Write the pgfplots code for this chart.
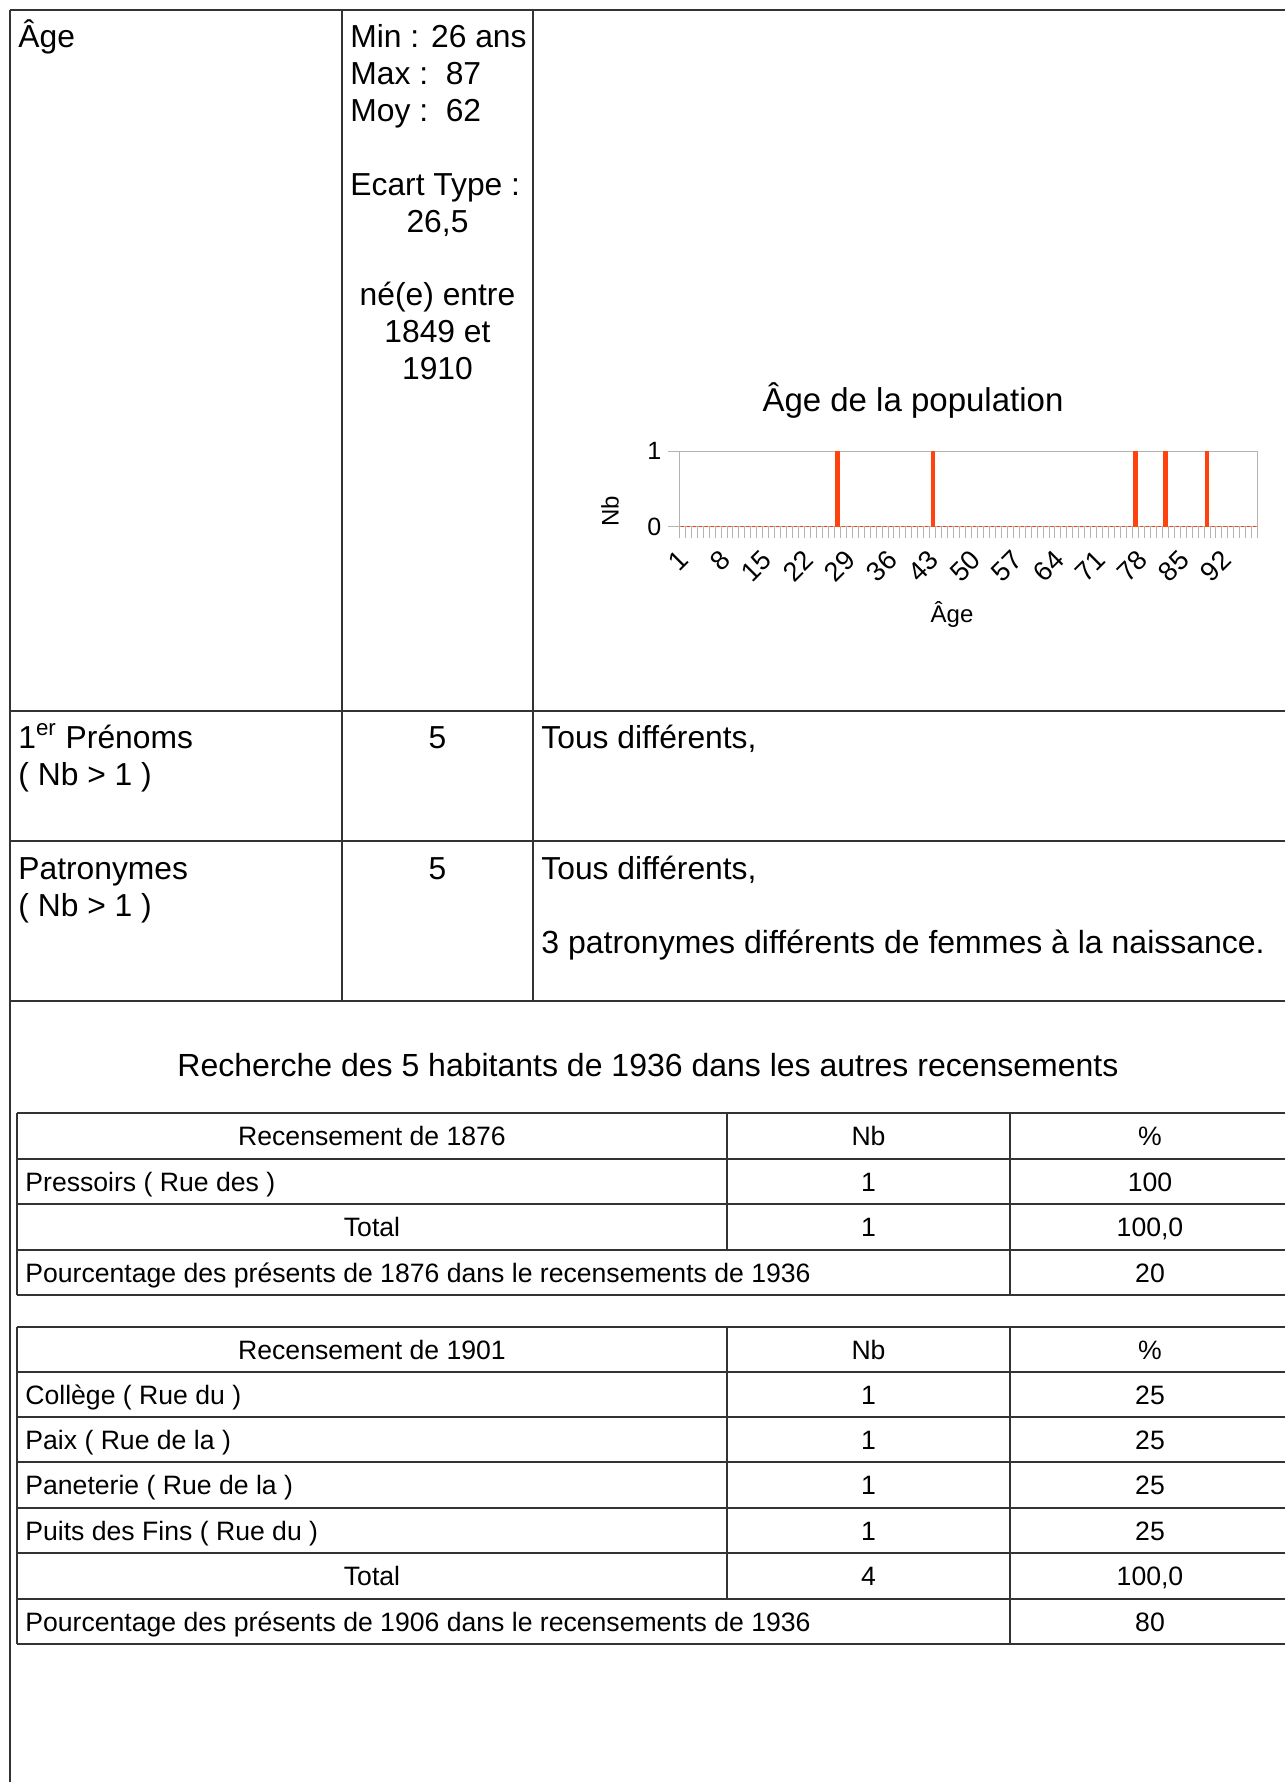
\documentclass[border=0pt]{standalone}
\usepackage{pgfplots}
\pgfplotsset{compat=1.18}
\usepackage{fontspec}
\setmainfont{Liberation Sans}
\definecolor{barred}{HTML}{FF420E}
\definecolor{chartgray}{HTML}{B3B3B3}
\definecolor{rulec}{HTML}{333333}
\newcommand{\bigf}{\fontsize{15.9pt}{18pt}\selectfont}
\newcommand{\smf}{\fontsize{13.3pt}{16pt}\selectfont}
\begin{document}
\begin{tikzpicture}
\useasboundingbox (0,0) rectangle (642.5pt,-891pt);
\fill[white] (0,0) rectangle (642.5pt,-891pt);
\begin{scope}[x=0.5pt,y=-0.5pt]
 % upper table
 \begin{scope}[rulec, line width=0.8pt]
  \draw (10,10) -- (1285,10);
  \draw (10,10) -- (10,1782);
  \draw (342,10) -- (342,1001);
  \draw (533,10) -- (533,1001);
  \draw (10,711) -- (1285,711);
  \draw (10,841) -- (1285,841);
  \draw (10,1001) -- (1285,1001);
 \end{scope}
 \begin{scope}[every node/.style={inner sep=0pt, anchor=base west, font=\bigf}]
  \node at (18,47.7) {Âge};
  \node at (350,47.7) {Min : 26 ans};
  \node at (350,84.3) {Max :\ \ 87};
  \node at (350,121) {Moy :\ \ 62};
  \node at (350,195) {Ecart Type :};
  \node[anchor=base] at (437.5,232) {26,5};
  \node[anchor=base] at (437.5,305) {né(e) entre};
  \node[anchor=base] at (437.5,342.7) {1849 et};
  \node[anchor=base] at (437.5,379) {1910};
  \node at (18,748) {1\textsuperscript{er} Prénoms};
  \node at (18,785) {( Nb > 1 )};
  \node[anchor=base] at (437.5,748) {5};
  \node at (541,748) {Tous différents,};
  \node at (18,879) {Patronymes};
  \node at (18,916) {( Nb > 1 )};
  \node[anchor=base] at (437.5,879) {5};
  \node at (541,879) {Tous différents,};
  \node[font=\fontsize{16pt}{18pt}\selectfont] at (541,953) {3 patronymes différents de femmes à la naissance.};
  \node[anchor=base, font=\fontsize{16pt}{18pt}\selectfont] at (648,1076) {Recherche des 5 habitants de 1936 dans les autres recensements};
 \end{scope}
 % lower tables
 \begin{scope}[rulec, line width=0.75pt]
  \foreach \y in {1113,1159,1204,1250,1295} \draw (17,\y) -- (1285,\y);
  \draw (17,1113) -- (17,1295);
  \draw (727,1113) -- (727,1250);
  \draw (1010,1113) -- (1010,1295);
  \foreach \y in {1327,1372,1417,1462,1508,1553,1599,1644} \draw (17,\y) -- (1285,\y);
  \draw (17,1327) -- (17,1644);
  \draw (727,1327) -- (727,1599);
  \draw (1010,1327) -- (1010,1644);
 \end{scope}
 \begin{scope}[every node/.style={inner sep=0pt, anchor=base, font=\smf}]
  \node at (372,1145.5) {Recensement de 1876};
  \node at (868.5,1145.5) {Nb};
  \node at (1150,1145.5) {\%};
  \node[anchor=base west] at (25,1191) {Pressoirs ( Rue des )};
  \node at (868.5,1191) {1};
  \node at (1150,1191) {100};
  \node at (372,1236.5) {Total};
  \node at (868.5,1236.5) {1};
  \node at (1150,1236.5) {100,0};
  \node[anchor=base west] at (25,1282) {Pourcentage des présents de 1876 dans le recensements de 1936};
  \node at (1150,1282) {20};
  % 1901
  \node at (372,1359) {Recensement de 1901};
  \node at (868.5,1359) {Nb};
  \node at (1150,1359) {\%};
  \node[anchor=base west] at (25,1404) {Collège ( Rue du )};
  \node at (868.5,1404) {1};
  \node at (1150,1404) {25};
  \node[anchor=base west] at (25,1449) {Paix ( Rue de la )};
  \node at (868.5,1449) {1};
  \node at (1150,1449) {25};
  \node[anchor=base west] at (25,1494.5) {Paneterie ( Rue de la )};
  \node at (868.5,1494.5) {1};
  \node at (1150,1494.5) {25};
  \node[anchor=base west] at (25,1540) {Puits des Fins ( Rue du )};
  \node at (868.5,1540) {1};
  \node at (1150,1540) {25};
  \node at (372,1585.5) {Total};
  \node at (868.5,1585.5) {4};
  \node at (1150,1585.5) {100,0};
  \node[anchor=base west] at (25,1631) {Pourcentage des présents de 1906 dans le recensements de 1936};
  \node at (1150,1631) {80};
 \end{scope}
\end{scope}
\begin{axis}[
  at={(339.65pt,-263.35pt)}, anchor=south west,
  scale only axis, width=289.2pt, height=37.7pt,
  xmin=0.5, xmax=97.5, ymin=0, ymax=1,
  clip=false,
  axis line style={draw=chartgray, line width=0.5pt},
  tick align=outside, major tick length=5.5pt,
  xtick pos=bottom, ytick pos=left,
  tick style={draw=chartgray, line width=0.5pt},
  xtick={0.5,1.5,...,97.5}, xticklabels={},
  extra x ticks={1,8,15,22,29,36,43,50,57,64,71,78,85,92},
  extra x tick labels={1,8,15,22,29,36,43,50,57,64,71,78,85,92},
  extra x tick style={major tick length=0pt, grid=none,
     xticklabel style={xshift=-2.75pt, yshift=-6pt, rotate=45, anchor=north east, font=\fontsize{13.5pt}{15pt}\selectfont}},
  ytick={0,1}, ymajorgrids, grid style={chartgray, line width=0.5pt},
  yticklabel style={font=\fontsize{12.5pt}{14pt}\selectfont},
  /pgf/number format/assume math mode=true,
  title={Âge de la population},
  title style={at={(axis description cs:0.404,1.515)}, anchor=center, font=\fontsize{16.5pt}{18pt}\selectfont},
  xlabel={Âge},
  xlabel style={at={(axis description cs:0.4715,-1.158)}, anchor=center, font=\fontsize{12pt}{14pt}\selectfont},
  ylabel={Nb},
  ylabel style={at={(axis description cs:-0.1198,0.208)}, anchor=center, font=\fontsize{12pt}{14pt}\selectfont},
]
\addplot[ybar, bar width=1.65pt, fill=barred, draw=barred, line width=0.4pt] coordinates {
(1,0) (2,0) (3,0) (4,0) (5,0) (6,0) (7,0) (8,0) (9,0) (10,0)
(11,0) (12,0) (13,0) (14,0) (15,0) (16,0) (17,0) (18,0) (19,0) (20,0)
(21,0) (22,0) (23,0) (24,0) (25,0) (26,0) (27,1) (28,0) (29,0) (30,0)
(31,0) (32,0) (33,0) (34,0) (35,0) (36,0) (37,0) (38,0) (39,0) (40,0)
(41,0) (42,0) (43,1) (44,0) (45,0) (46,0) (47,0) (48,0) (49,0) (50,0)
(51,0) (52,0) (53,0) (54,0) (55,0) (56,0) (57,0) (58,0) (59,0) (60,0)
(61,0) (62,0) (63,0) (64,0) (65,0) (66,0) (67,0) (68,0) (69,0) (70,0)
(71,0) (72,0) (73,0) (74,0) (75,0) (76,0) (77,1) (78,0) (79,0) (80,0)
(81,0) (82,1) (83,0) (84,0) (85,0) (86,0) (87,0) (88,0) (89,1) (90,0)
(91,0) (92,0) (93,0) (94,0) (95,0) (96,0) (97,0)
};
\end{axis}
\end{tikzpicture}
\end{document}
